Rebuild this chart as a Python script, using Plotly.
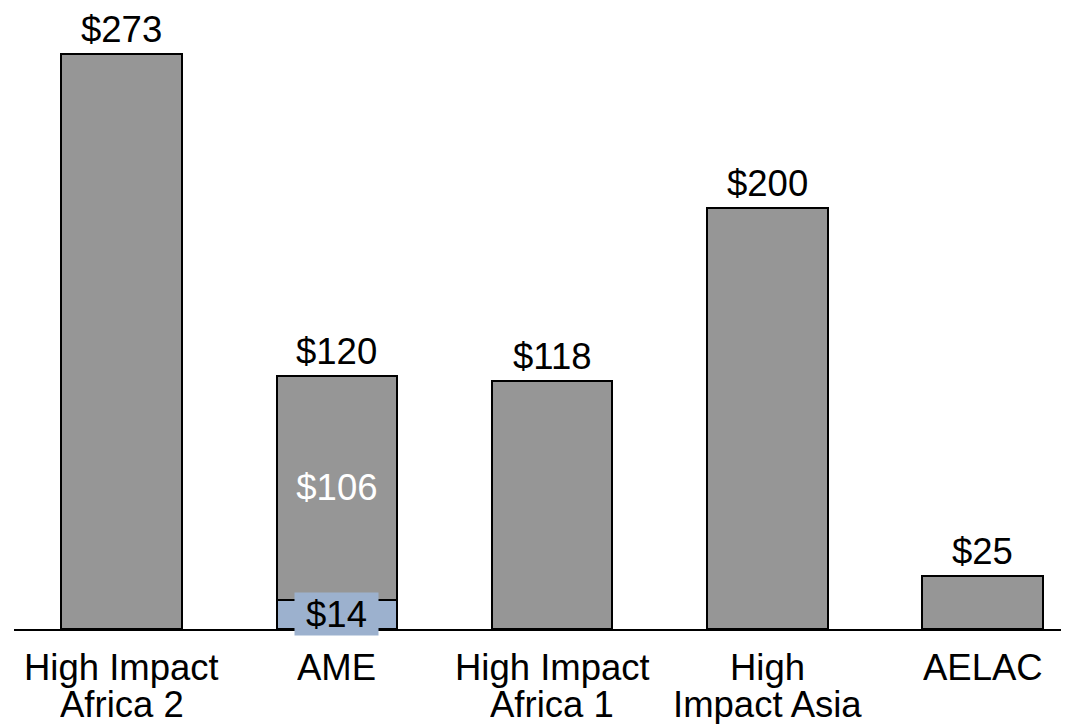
import plotly.graph_objects as go

categories = ["High Impact<br>Africa 2", "AME", "High Impact<br>Africa 1", "High<br>Impact Asia", "AELAC"]
blue_values = [0, 14, 0, 0, 0]
gray_values = [273, 106, 118, 200, 25]
gray_inside_labels = ["", "$106", "", "", ""]
totals = [b + g for b, g in zip(blue_values, gray_values)]
total_labels = ["$" + str(t) for t in totals]

GRAY = "#969696"
BLUE = "#9CB1CE"
FONT = "Liberation Sans, Arial, sans-serif"
FS = 36.5

x = list(range(len(categories)))

fig = go.Figure()
fig.add_trace(go.Bar(
    x=x, y=blue_values, marker=dict(color=BLUE, line=dict(color="black", width=2)),
    hoverinfo="skip", showlegend=False,
))
fig.add_trace(go.Bar(
    x=x, y=gray_values, marker=dict(color=GRAY, line=dict(color="black", width=2)),
    text=gray_inside_labels, textposition="inside", insidetextanchor="middle",
    textfont=dict(color="white", size=FS, family=FONT), textangle=0,
    hoverinfo="skip", showlegend=False,
))

# totals above bars
for i, (t, lab) in enumerate(zip(totals, total_labels)):
    fig.add_annotation(x=i, y=t, xref="x", yref="y", text=lab, showarrow=False,
                       yanchor="bottom", yshift=2,
                       font=dict(size=FS, family=FONT, color="black"))

# $14 label with blue background box
fig.add_annotation(x=1, y=blue_values[1] / 2, xref="x", yref="y", text="$" + str(blue_values[1]),
                   showarrow=False, bgcolor=BLUE, font=dict(size=FS, family=FONT, color="black"),
                   borderpad=0, width=83, height=42)

# category labels, one annotation per line
for i, cat in enumerate(categories):
    for j, line in enumerate(cat.split("<br>")):
        fig.add_annotation(x=i, y=0, xref="x", yref="paper", text=line, showarrow=False,
                           yanchor="middle", yshift=-38 - 37 * j, height=41,
                           font=dict(size=FS, family=FONT, color="black"))

fig.update_layout(
    width=1061, height=716,
    margin=dict(l=6, r=0, t=0, b=95),
    paper_bgcolor="white", plot_bgcolor="white",
    barmode="stack", bargap=0.44,
    xaxis=dict(range=[-0.5, 4.401], showticklabels=False, ticks="", showgrid=False, zeroline=False,
               showline=True, linecolor="black", linewidth=2, fixedrange=True),
    yaxis=dict(range=[0, 295.0], visible=False, showgrid=False, zeroline=False, fixedrange=True),
    font=dict(family=FONT),
)

fig.write_html("out.html")
